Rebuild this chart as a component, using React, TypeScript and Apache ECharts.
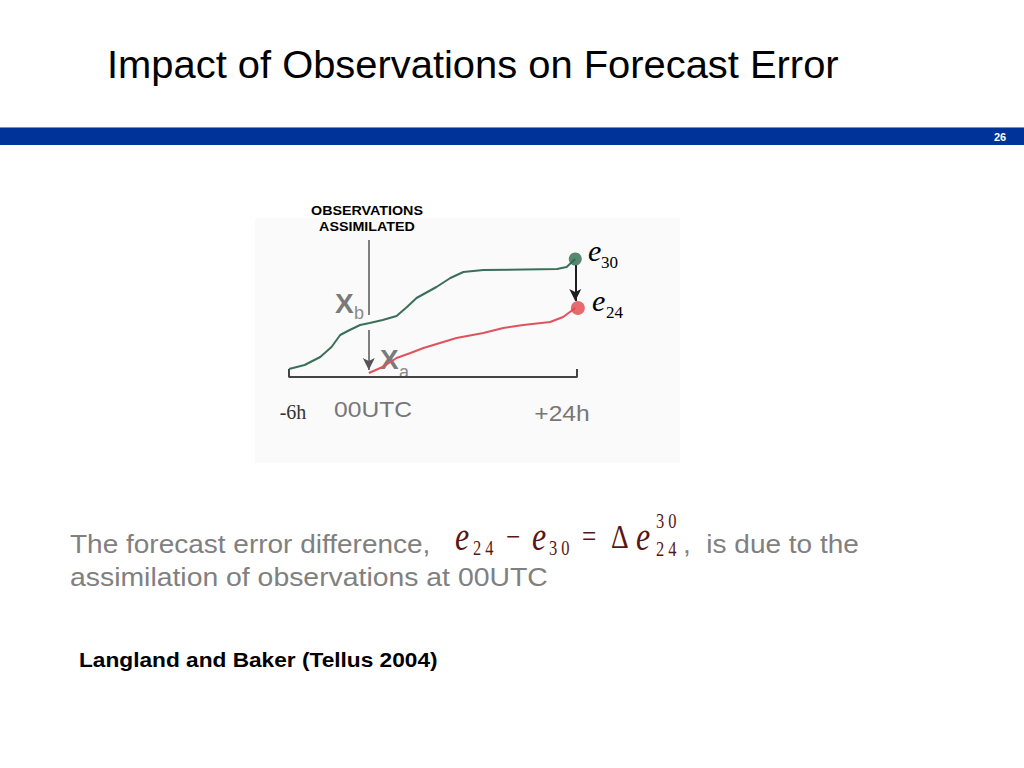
import React, { useEffect, useRef } from "react";
import * as echarts from "echarts";

// Schematic time axis (h) and forecast error (arbitrary units)
const greenX = [-9.2, -7.4, -5.6, -4.3, -3.3, -2.2, -1, 0.1, 1.6, 3.2, 4.4, 5.5, 7.8, 9.4, 10.9, 13.2, 21.7, 22.8, 23.8];
const greenY = [8, 12, 20, 30, 42, 47, 52, 54, 57, 61, 70, 79, 90, 99, 105, 107, 108, 110, 118];
const redX = [0, 1.6, 3.2, 4.8, 6.3, 8.2, 10.1, 13.2, 15.5, 17.8, 20.9, 22.4, 23.8];
const redY = [4, 10, 19, 24, 29, 34, 39, 44, 49, 52, 55, 60, 69];
const e30Point = [23.8, 118];
const e24Point = [24.1, 69];
const axisBracketX = [-9.2, -9.2, 24, 24];
const axisBracketY = [8, 0, 0, 8];
const tickLabels = ["-6h", "00UTC", "+24h"];

const SANS = "'Liberation Sans', Arial, sans-serif";
const SERIF = "'Liberation Serif', 'Times New Roman', serif";
const MAROON = "#5a1616";
const GRAY = "#808080";

export default function App() {
  const ref = useRef<HTMLDivElement>(null);
  useEffect(() => {
    if (!ref.current) return;
    const chart = echarts.init(ref.current, null, { renderer: "svg" });
    const txt = (x: number, y: number, text: string, style: any, sx = 1, sy = 1) => ({
      type: "text",
      x,
      y,
      scaleX: sx,
      scaleY: sy,
      style: { text, textVerticalAlign: "middle", ...style },
    });
    const fm = (x: number, y: number, text: string, font: string) =>
      txt(x, y, text, { fill: MAROON, font, textAlign: "left" }, 1.1, 1.35);
    chart.setOption({
      animation: false,
      backgroundColor: "#ffffff",
      grid: { left: 289, right: 447, top: 237, bottom: 391 },
      xAxis: { type: "value", min: -9.2, max: 24, show: false },
      yAxis: { type: "value", min: 0, max: 140, show: false },
      graphic: [
        { type: "rect", shape: { x: 255, y: 218, width: 425, height: 245 }, style: { fill: "#fafafa" }, z: -10 },
        { type: "rect", shape: { x: 0, y: 127, width: 1024, height: 18 }, style: { fill: "#003399" } },
        { type: "rect", shape: { x: 0, y: 127, width: 1024, height: 1 }, style: { fill: "#6f8fcf" } },
        txt(1000, 137, "26", { fill: "#ffffff", font: `bold 11px ${SANS}`, textAlign: "center" }),
        txt(107, 65, "Impact of Observations on Forecast Error", { fill: "#000", font: `38px ${SANS}`, textAlign: "left" }, 1.05),
        txt(367, 211, "OBSERVATIONS", { fill: "#000", font: `bold 13px ${SANS}`, textAlign: "center" }, 1.1),
        txt(367, 227, "ASSIMILATED", { fill: "#000", font: `bold 13px ${SANS}`, textAlign: "center" }, 1.1),
        txt(335, 303, "X", { fill: "#7a7a7a", font: `bold 28px ${SANS}`, textAlign: "left" }),
        txt(354, 313, "b", { fill: "#8a8a8a", font: `18px ${SANS}`, textAlign: "left" }),
        txt(380, 359, "X", { fill: "#7a7a7a", font: `bold 28px ${SANS}`, textAlign: "left" }),
        txt(399, 372, "a", { fill: "#8a8a8a", font: `18px ${SANS}`, textAlign: "left" }),
        txt(588, 250, "e", { fill: "#000", font: `italic 30px ${SERIF}`, textAlign: "left" }),
        txt(601, 262, "30", { fill: "#000", font: `17px ${SERIF}`, textAlign: "left" }),
        txt(592, 300, "e", { fill: "#000", font: `italic 30px ${SERIF}`, textAlign: "left" }),
        txt(606, 312, "24", { fill: "#000", font: `17px ${SERIF}`, textAlign: "left" }),
        txt(293, 412, tickLabels[0], { fill: "#333", font: `20px ${SERIF}`, textAlign: "center" }),
        txt(334, 409, tickLabels[1], { fill: "#777", font: `22px ${SANS}`, textAlign: "left" }, 1.12),
        txt(562, 413, tickLabels[2], { fill: "#777", font: `22px ${SANS}`, textAlign: "center" }, 1.12),
        txt(70, 545, "The forecast error difference,", { fill: GRAY, font: `25px ${SANS}`, textAlign: "left" }, 1.12),
        txt(70, 578, "assimilation of observations at 00UTC", { fill: GRAY, font: `25px ${SANS}`, textAlign: "left" }, 1.135),
        txt(683, 545, ",  is due to the", { fill: GRAY, font: `25px ${SANS}`, textAlign: "left" }, 1.12),
        // formula e24 - e30 = Δe^30_24
        fm(455, 537, "e", `italic 29px ${SERIF}`),
        fm(473, 548, "2 4", `15px ${SERIF}`),
        fm(506, 537, "−", `23px ${SERIF}`),
        fm(532, 537, "e", `italic 29px ${SERIF}`),
        fm(549, 548, "3 0", `15px ${SERIF}`),
        fm(582, 537, "=", `23px ${SERIF}`),
        fm(611, 537, "Δ", `25px ${SERIF}`),
        fm(636, 537, "e", `italic 29px ${SERIF}`),
        fm(656, 521, "3 0", `15px ${SERIF}`),
        fm(656, 549, "2 4", `15px ${SERIF}`),
        txt(79, 660, "Langland and Baker (Tellus 2004)", { fill: "#000", font: `bold 21px ${SANS}`, textAlign: "left" }, 1.08),
      ],
      series: [
        {
          type: "line",
          data: axisBracketX.map((x, i) => [x, axisBracketY[i]]),
          showSymbol: false,
          clip: false,
          lineStyle: { color: "#444", width: 2 },
        },
        {
          type: "line",
          data: greenX.map((x, i) => [x, greenY[i]]),
          showSymbol: false,
          clip: false,
          lineStyle: { color: "#3b6f57", width: 2 },
          markLine: {
            silent: true,
            symbol: ["none", "none"],
            label: { show: false },
            lineStyle: { color: "#555", width: 1.5, type: "solid" },
            data: [[{ coord: [0, 137] }, { coord: [0, 62] }]],
          },
        },
        {
          type: "line",
          data: redX.map((x, i) => [x, redY[i]]),
          showSymbol: false,
          clip: false,
          lineStyle: { color: "#e0535c", width: 2 },
          markLine: {
            silent: true,
            symbol: ["none", "arrow"],
            symbolSize: [9, 12],
            label: { show: false },
            lineStyle: { color: "#555", width: 1.5, type: "solid" },
            data: [[{ coord: [0, 47] }, { coord: [0, 7] }]],
          },
        },
        {
          type: "scatter",
          data: [e30Point],
          symbolSize: 13,
          clip: false,
          itemStyle: { color: "#2f6b50" },
          z: 5,
          markLine: {
            silent: true,
            symbol: ["none", "arrow"],
            symbolSize: [9, 12],
            label: { show: false },
            lineStyle: { color: "#1e1e1e", width: 2, type: "solid" },
            data: [[{ coord: [23.8, 112] }, { coord: [23.8, 76] }]],
          },
        },
        {
          type: "scatter",
          data: [e24Point],
          symbolSize: 14,
          clip: false,
          itemStyle: { color: "#e2464c" },
          z: 5,
        },
      ],
    });
    return () => chart.dispose();
  }, []);
  return (
    <div
      ref={ref}
      style={{ position: "absolute", left: 0, top: 0, width: 1024, height: 768 }}
    />
  );
}
